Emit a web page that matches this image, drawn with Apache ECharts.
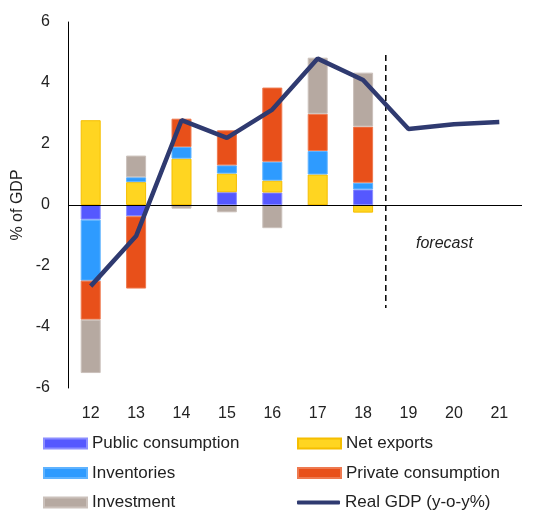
<!DOCTYPE html>
<html>
<head>
<meta charset="utf-8">
<script src="https://cdn.jsdelivr.net/npm/echarts@6/dist/echarts.min.js"></script>
<style>
  html, body { margin: 0; padding: 0; background: #fff; }
  #chart { width: 550px; height: 514px; }
</style>
</head>
<body>
<div id="chart"></div>
<script>
// years (20xx)
var years = ["12", "13", "14", "15", "16", "17", "18", "19", "20", "21"];
// contributions, % of GDP
var publicCons = [-0.48, -0.37, 0, 0.42, 0.41, 0, 0.51, null, null, null];
var netExports = [2.78, 0.75, 1.52, 0.61, 0.39, 1.0, -0.25, null, null, null];
var inventories = [-2.0, 0.16, 0.38, 0.27, 0.62, 0.77, 0.22, null, null, null];
var privateCons = [-1.28, -2.37, 0.93, 1.15, 2.43, 1.22, 1.84, null, null, null];
var investment = [-1.75, 0.71, -0.12, -0.24, -0.76, 1.84, 1.77, null, null, null];
// real GDP y-o-y %
var gdp = [-2.66, -1.02, 2.78, 2.2, 3.13, 4.8, 4.1, 2.49, 2.65, 2.72];
// forecast divider (between 18 and 19) on a 0..10 helper axis
var forecastLine = [[7, 4.92], [7, -3.38]];

var chart = echarts.init(document.getElementById("chart"));
var font = "Liberation Sans, Arial, sans-serif";
var legendText = { fontSize: 17, color: "#222", fontFamily: font };

function bar(name, data, color, border) {
  return {
    name: name,
    type: "bar",
    stack: "gdp",
    barWidth: 20,
    data: data,
    itemStyle: { color: color, borderColor: border, borderWidth: 1 }
  };
}

chart.setOption({
  animation: false,
  textStyle: { fontFamily: font },
  grid: { left: 68, right: 28, top: 22, bottom: 126, outerBoundsMode: "none", containLabel: false },
  legend: [
    {
      left: 43, top: 435, orient: "vertical", padding: 0, icon: "rect",
      itemWidth: 43, itemHeight: 10, itemGap: 12.5, itemTextGap: 5,
      textStyle: legendText,
      data: ["Public consumption", "Inventories", "Investment"]
    },
    {
      left: 297, top: 435, orient: "vertical", padding: 0, icon: "rect",
      itemWidth: 43, itemHeight: 10, itemGap: 12.5, itemTextGap: 5,
      textStyle: legendText,
      data: ["Net exports", "Private consumption"]
    },
    {
      left: 297, top: 494, padding: 0,
      itemWidth: 43, itemHeight: 4, itemTextGap: 5,
      icon: "roundRect",
      textStyle: legendText,
      data: ["Real GDP (y-o-y%)"]
    }
  ],
  xAxis: [
    {
      type: "category",
      data: years,
      axisLine: { show: false },
      axisTick: { show: false },
      axisLabel: { fontSize: 16, color: "#222", margin: 18 }
    },
    { type: "value", min: 0, max: 10, show: false }
  ],
  yAxis: {
    type: "value",
    min: -6, max: 6, interval: 2,
    name: "% of GDP",
    nameLocation: "middle",
    nameGap: 42,
    nameMoveOverlap: false,
    nameTextStyle: { fontSize: 16, color: "#222" },
    axisLine: { show: true, lineStyle: { color: "#000", width: 1 } },
    axisTick: { show: false },
    splitLine: { show: false },
    axisLabel: { fontSize: 16, color: "#222", margin: 18 }
  },
  graphic: [
    {
      type: "text", left: 416, top: 236,
      style: { text: "forecast", fontSize: 16, fontStyle: "italic", fill: "#222", fontFamily: font }
    }
  ],
  series: [
    Object.assign(bar("Public consumption", publicCons, "#5558FF", "#8C8EFF"), {
      markLine: {
        silent: true, symbol: "none", label: { show: false },
        lineStyle: { color: "#000", width: 1.2, type: "solid" },
        data: [{ yAxis: 0 }]
      }
    }),
    bar("Net exports", netExports, "#FFD521", "#F5BE00"),
    bar("Inventories", inventories, "#2E9BFF", "#5FB3FF"),
    bar("Private consumption", privateCons, "#E8501A", "#EE7A50"),
    bar("Investment", investment, "#B6A9A1", "#CBC1BB"),
    {
      name: "Real GDP (y-o-y%)",
      type: "line",
      data: gdp,
      symbol: "none",
      z: 5,
      lineStyle: { color: "#2F3A70", width: 4.5 },
      itemStyle: { color: "#2F3A70" }
    },
    {
      name: "forecast",
      type: "line",
      xAxisIndex: 1,
      data: forecastLine,
      symbol: "none",
      lineStyle: { color: "#000", width: 1.5, type: [6, 4] }
    }
  ]
});
</script>
</body>
</html>
